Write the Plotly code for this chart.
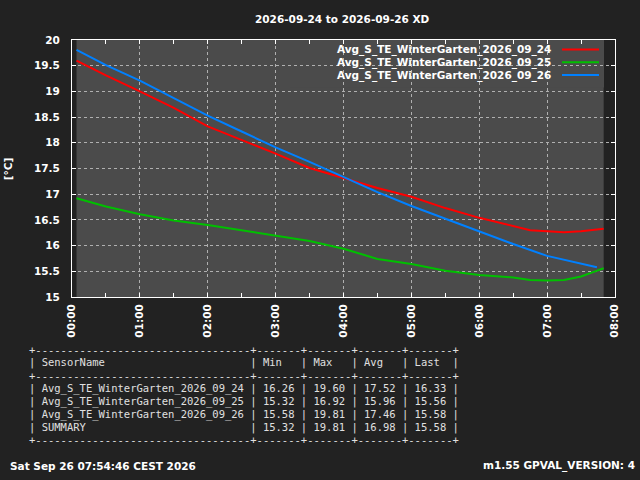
import plotly.graph_objects as go

# readings, one list per day, time of day on the x axis
day = "2026-09-26 "
t_24 = ["00:04", "00:30", "01:00", "01:30", "02:00", "02:30", "03:00", "03:30", "04:00", "04:30",
        "05:00", "05:30", "06:00", "06:30", "06:45", "07:00", "07:15", "07:30", "07:40", "07:50"]
v_24 = [19.60, 19.31, 19.00, 18.68, 18.32, 18.06, 17.79, 17.51, 17.32, 17.12,
        16.95, 16.73, 16.54, 16.37, 16.30, 16.28, 16.26, 16.28, 16.30, 16.33]
t_25 = ["00:04", "00:30", "01:00", "01:30", "02:00", "02:30", "03:00", "03:30", "04:00", "04:30",
        "05:00", "05:30", "06:00", "06:30", "06:45", "07:00", "07:15", "07:30", "07:40", "07:50"]
v_25 = [16.92, 16.76, 16.61, 16.49, 16.40, 16.30, 16.20, 16.09, 15.94, 15.74,
        15.64, 15.51, 15.43, 15.38, 15.33, 15.32, 15.33, 15.40, 15.48, 15.56]
t_26 = ["00:04", "00:30", "01:00", "01:30", "02:00", "02:30", "03:00", "03:30", "04:00", "04:30",
        "05:00", "05:30", "06:00", "06:30", "07:00", "07:10", "07:30", "07:44"]
v_26 = [19.81, 19.51, 19.21, 18.87, 18.53, 18.22, 17.91, 17.63, 17.34, 17.04,
        16.77, 16.52, 16.27, 16.03, 15.80, 15.75, 15.66, 15.58]

names = ["Avg_S_TE_WinterGarten_2026_09_24", "Avg_S_TE_WinterGarten_2026_09_25",
         "Avg_S_TE_WinterGarten_2026_09_26"]
colors = ["#ff0000", "#00c000", "#0080ff"]

# summary table
tab_names = names + ["SUMMARY"]
tab_min = ["16.26", "15.32", "15.58", "15.32"]
tab_max = ["19.60", "16.92", "19.81", "19.81"]
tab_avg = ["17.52", "15.96", "17.46", "16.98"]
tab_last = ["16.33", "15.56", "15.58", "15.58"]

title = "2026-09-24 to 2026-09-26 XD"
footer_l = "Sat Sep 26 07:54:46 CEST 2026"
footer_r = "m1.55 GPVAL_VERSION: 4"

W, H = 640, 480
L, R, T, B = 72, 615, 39.5, 297
BG = "#222222"
FILL = "#4b4b4b"
SANS = "DejaVu Sans"


def px(x):
    return (x - L) / (R - L)


def py(y):
    return (B - y) / (B - T)


def bold(size=10.5, color="white"):
    return dict(family=SANS, size=size, color=color, weight="bold")


fig = go.Figure()
for t, v, n, c in zip([t_24, t_25, t_26], [v_24, v_25, v_26], names, colors):
    fig.add_trace(go.Scatter(x=[day + s for s in t], y=v, name=n, mode="lines",
                             line=dict(color=c, width=2), showlegend=False))

# grey area covering the recorded time span
fig.add_shape(type="rect", xref="x", yref="paper", x0=day + t_24[0], x1=day + t_24[-1],
              y0=0, y1=1, fillcolor=FILL, line_width=0, layer="below")
# key box hides the grid
fig.add_shape(type="rect", xref="paper", yref="paper", x0=px(290), x1=px(604),
              y0=py(87), y1=1, fillcolor=FILL, line_width=0, layer="between")

for i, (n, c) in enumerate(zip(names, colors)):
    yy = py(49 + i * 12.8)
    fig.add_annotation(x=px(553), y=yy, xref="paper", yref="paper", text=n, showarrow=False,
                       xanchor="right", yanchor="middle", font=bold())
    fig.add_shape(type="line", xref="paper", yref="paper", x0=px(562), x1=px(599), y0=yy, y1=yy,
                  line=dict(color=c, width=2))

# table
rows = []
sep = "+" + "-" * 34 + "+" + "-" * 7 + "+" + "-" * 7 + "+" + "-" * 7 + "+" + "-" * 7 + "+"
rows.append(sep)
rows.append("| %-32s | %-5s | %-5s | %-5s | %-5s |" % ("SensorName", "Min", "Max", "Avg", "Last"))
rows.append(sep)
for i in range(len(tab_names)):
    rows.append("| %-32s | %s | %s | %s | %s |" % (tab_names[i], tab_min[i], tab_max[i],
                                                   tab_avg[i], tab_last[i]))
rows.append(sep)
for i, r in enumerate(rows):
    fig.add_annotation(x=px(27), y=py(350 + i * 12.9), xref="paper", yref="paper",
                       text=r.replace(" ", "&nbsp;"), showarrow=False, xanchor="left",
                       yanchor="middle", font=dict(family="DejaVu Sans Mono", size=10.5,
                                                   color="#e0e0e0"))

fig.add_annotation(x=px(342), y=py(18), xref="paper", yref="paper", text=title, showarrow=False,
                   xanchor="center", yanchor="middle", font=bold(10.5))
fig.add_annotation(x=px(8), y=py(169), xref="paper", yref="paper", text="[°C]", showarrow=False,
                   xanchor="center", yanchor="middle", textangle=-90, font=bold())
fig.add_annotation(x=px(8), y=py(466), xref="paper", yref="paper", text=footer_l,
                   showarrow=False, xanchor="left", yanchor="middle", font=bold())
fig.add_annotation(x=px(637), y=py(466), xref="paper", yref="paper", text=footer_r,
                   showarrow=False, xanchor="right", yanchor="middle", font=bold())

fig.update_xaxes(type="date", range=[day + "00:00", day + "08:00"], dtick=3600000,
                 tickformat="%H:%M", tickangle=-90, tickfont=bold(), ticklabelstandoff=2,
                 showgrid=True, gridcolor="#b0b0b0", griddash="dot", gridwidth=1,
                 ticks="inside", ticklen=4, tickcolor="white",
                 minor=dict(ticks="inside", dtick=1800000, ticklen=4, tickcolor="white",
                            showgrid=False),
                 showline=True, linecolor="white", linewidth=1, mirror="allticks",
                 zeroline=False)
fig.update_yaxes(range=[15, 20], dtick=0.5, tickfont=bold(),
                 showgrid=True, gridcolor="#b0b0b0", griddash="dot", gridwidth=1,
                 ticks="inside", ticklen=4, tickcolor="white", ticklabelstandoff=9,
                 showline=True, linecolor="white", linewidth=1, mirror="allticks",
                 zeroline=False)

fig.update_layout(width=W, height=H, autosize=False,
                  margin=dict(l=L, r=W - R, t=T, b=H - B, pad=0),
                  paper_bgcolor=BG, plot_bgcolor=BG, showlegend=False)

# page has a default 8px body margin, drop it so the figure sits at the corner
fig.write_html("out.html", config={"displayModeBar": False},
               post_script="document.body.style.margin='0';"
                           "document.body.style.background='#222222';")
